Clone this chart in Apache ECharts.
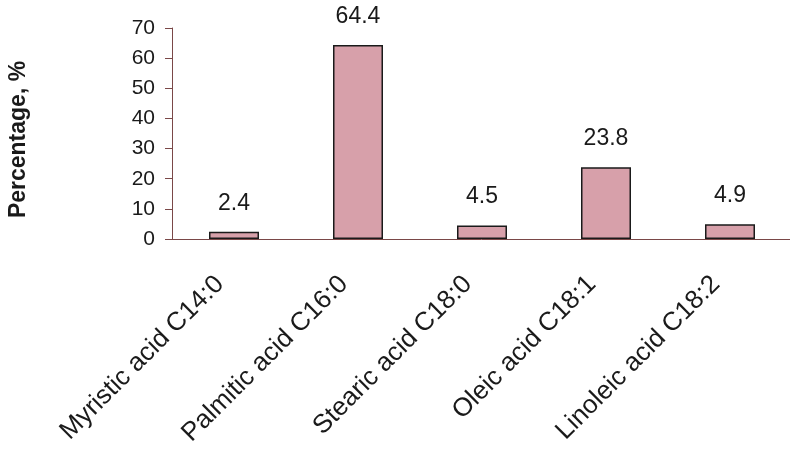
<!DOCTYPE html>
<html>
<head>
<meta charset="utf-8">
<script src="https://cdn.jsdelivr.net/npm/echarts@6/dist/echarts.min.js"></script>
<style>
  html, body { margin: 0; padding: 0; background: #fff; }
  #chart { width: 790px; height: 456px; }
</style>
</head>
<body>
<div id="chart"></div>
<script>
// Fatty acid composition
const categories = [
  "Myristic acid C14:0",
  "Palmitic acid C16:0",
  "Stearic acid C18:0",
  "Oleic acid C18:1",
  "Linoleic acid C18:2",
];
const percentages = [2.4, 64.4, 4.5, 23.8, 4.9];
const yTicks = [0, 10, 20, 30, 40, 50, 60, 70];

const chart = echarts.init(document.getElementById("chart"));
const option = {
  animation: false,
  backgroundColor: "#ffffff",
  textStyle: { fontFamily: "Liberation Sans, Arial, sans-serif" },
  grid: {
    left: 172,
    right: -2,
    top: 28,
    bottom: 217,
    outerBoundsMode: "none",
  },
  xAxis: {
    type: "category",
    data: categories,
    axisLine: { lineStyle: { color: "#7a4848", width: 1 } },
    axisTick: { length: 7, lineStyle: { color: "#7a4848" } },
    axisLabel: {
      rotate: 45,
      margin: 27,
      padding: [0, 20, 0, 0],
      fontSize: 26,
      color: "#1a1a1a",
      interval: 0,
    },
  },
  yAxis: {
    type: "value",
    min: yTicks[0],
    max: yTicks[yTicks.length - 1],
    interval: 10,
    name: "Percentage, %",
    nameLocation: "middle",
    nameGap: 142,
    nameTextStyle: {
      fontSize: 23,
      fontWeight: "bold",
      color: "#1a1a1a",
      padding: [0, 12, 0, 0],
    },
    axisLine: { show: true, lineStyle: { color: "#7a4848", width: 1 } },
    axisTick: { show: true, length: 7, lineStyle: { color: "#7a4848" } },
    axisLabel: { fontSize: 21, color: "#1a1a1a", margin: 17 },
    splitLine: { show: false },
  },
  series: [
    {
      name: "Percentage",
      type: "bar",
      data: percentages,
      barWidth: 50,
      itemStyle: {
        color: "#d7a0aa",
        borderColor: "#1a1a1a",
        borderWidth: 1.5,
      },
      label: {
        show: true,
        position: "top",
        distance: 17,
        fontSize: 23,
        color: "#1a1a1a",
      },
    },
  ],
};
chart.setOption(option);
</script>
</body>
</html>
